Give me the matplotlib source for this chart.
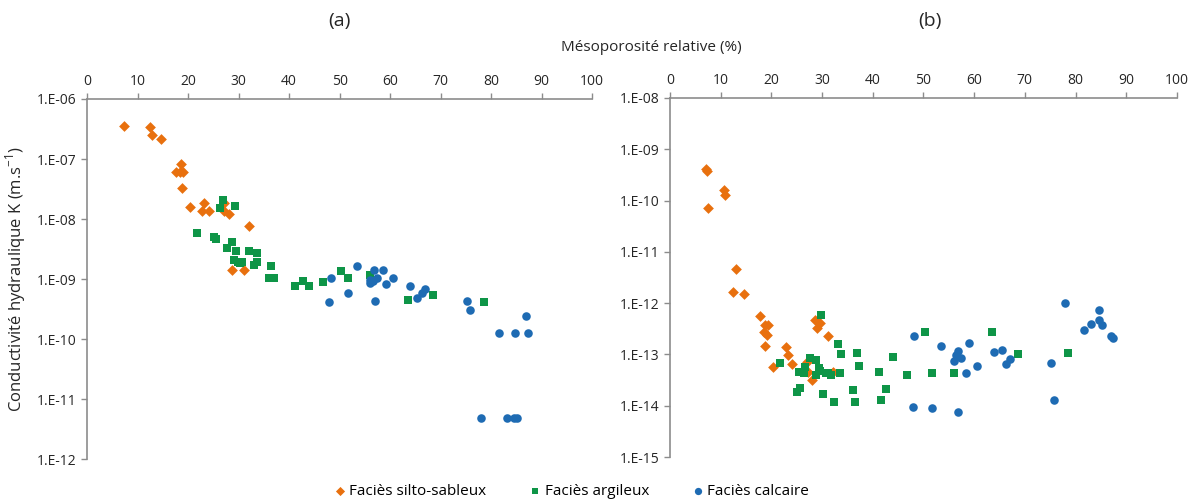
import numpy as np
import matplotlib
matplotlib.use('Agg')
import matplotlib.pyplot as plt
from matplotlib.ticker import FixedLocator, FuncFormatter, NullLocator

plt.rcParams['font.family'] = ['Open Sans', 'DejaVu Sans']

# ---- data, panel (a): x = relative mesoporosity (%), y = log10(K) ----
a_silt_x = [7.3, 12.5, 12.9, 14.7, 18.7, 17.7, 19.0, 18.4, 18.8, 20.3, 23.1, 22.7,
            24.2, 27.2, 27.1, 28.1, 32.1, 28.8, 31.0]
a_silt_logk = [-6.45, -6.46, -6.60, -6.67, -7.08, -7.22, -7.22, -7.22, -7.48, -7.80,
               -7.74, -7.87, -7.86, -7.73, -7.87, -7.92, -8.11, -8.85, -8.85]

a_argi_x = [21.8, 25.1, 25.5, 26.9, 26.4, 29.3, 28.8, 27.7, 29.5, 29.0, 29.8, 30.6,
            30.2, 32.0, 33.7, 33.0, 33.7, 36.5, 36.0, 37.1, 41.2, 42.7, 43.9, 46.7,
            50.3, 51.7, 56.1, 63.6, 68.4, 78.5]
a_argi_logk = [-8.23, -8.30, -8.33, -7.69, -7.81, -7.78, -8.38, -8.48, -8.54, -8.68,
               -8.72, -8.71, -8.74, -8.53, -8.56, -8.77, -8.72, -8.79, -8.98, -8.99,
               -9.12, -9.04, -9.11, -9.05, -8.87, -8.99, -8.93, -9.35, -9.26, -9.38]

a_calc_x = [48.2, 48.0, 51.7, 53.4, 56.9, 58.5, 56.1, 56.7, 57.5, 56.1, 59.1, 60.5,
            57.0, 64.0, 65.3, 66.3, 67.0, 75.2, 75.8, 86.8, 81.6, 84.7, 87.2, 77.9,
            83.1, 84.6, 85.2]
a_calc_logk = [-8.98, -9.39, -9.24, -8.79, -8.85, -8.85, -9.02, -9.03, -8.99, -9.06,
               -9.08, -8.98, -9.37, -9.11, -9.31, -9.23, -9.16, -9.36, -9.51, -9.62,
               -9.90, -9.90, -9.90, -11.31, -11.31, -11.31, -11.31]

# ---- data, panel (b) ----
b_silt_x = [7.1, 7.3, 10.6, 10.8, 7.6, 13.0, 12.5, 14.7, 17.7, 18.7, 19.3, 18.5,
            19.1, 18.8, 22.8, 23.2, 24.0, 20.3, 28.6, 29.6, 29.1, 31.1, 27.1, 27.3,
            28.0, 32.1]
b_silt_logk = [-9.39, -9.42, -9.79, -9.90, -10.15, -11.33, -11.79, -11.83, -12.26,
               -12.43, -12.43, -12.57, -12.63, -12.83, -12.85, -13.02, -13.18, -13.24,
               -12.33, -12.38, -12.48, -12.65, -13.15, -13.35, -13.50, -13.35]

b_argi_x = [29.7, 33.1, 33.8, 36.8, 37.2, 43.9, 21.7, 27.6, 28.8, 26.7, 25.5, 26.5,
            29.4, 29.6, 30.7, 28.8, 31.7, 31.2, 33.6, 25.6, 25.1, 30.2, 32.4, 36.1,
            36.4, 41.2, 42.7, 41.6, 46.7, 50.3, 51.6, 56.0, 63.6, 68.6, 78.5]
b_argi_logk = [-12.23, -12.79, -13.00, -12.98, -13.22, -13.05, -13.17, -13.07, -13.11,
               -13.24, -13.34, -13.37, -13.26, -13.33, -13.36, -13.41, -13.41, -13.37,
               -13.37, -13.65, -13.74, -13.77, -13.92, -13.69, -13.93, -13.34, -13.67,
               -13.89, -13.41, -12.57, -13.37, -13.37, -12.56, -13.00, -12.97]

b_calc_x = [48.1, 48.0, 51.6, 53.4, 56.8, 56.4, 57.4, 56.0, 59.0, 58.4, 60.5, 56.9,
            64.0, 65.4, 67.0, 66.3, 75.2, 75.8, 77.9, 81.7, 83.1, 84.7, 84.7, 85.2,
            87.0, 87.3]
b_calc_logk = [-12.65, -14.03, -14.05, -12.83, -12.94, -13.02, -13.06, -13.13, -12.78,
               -13.36, -13.22, -14.12, -12.96, -12.91, -13.09, -13.18, -13.17, -13.88,
               -12.00, -12.53, -12.40, -12.14, -12.32, -12.43, -12.65, -12.67]

labels = ['Faciès silto-sableux', 'Faciès argileux', 'Faciès calcaire']
colors = ['#E8700E', '#0E9547', '#1E6BB3']
markers = ['D', 's', 'o']
sizes = [30, 26, 38]
xticks = list(range(0, 101, 10))

fig = plt.figure(figsize=(12, 5.01), dpi=100)
ax_a = fig.add_axes([0.0725, 0.0838, 0.421, 0.7186])
ax_b = fig.add_axes([0.5583, 0.0878, 0.4225, 0.7166])


def fmt(v, pos):
    e = int(round(np.log10(v)))
    return '1.E-%02d' % (-e)


def setup(ax, ylo, yhi):
    ax.set_yscale('log')
    ax.set_xlim(0, 100)
    ax.set_ylim(10.0 ** ylo, 10.0 ** yhi)
    ax.xaxis.tick_top()
    ax.set_xticks(xticks)
    ax.yaxis.set_major_locator(FixedLocator([10.0 ** e for e in range(ylo, yhi + 1)]))
    ax.yaxis.set_minor_locator(NullLocator())
    ax.yaxis.set_major_formatter(FuncFormatter(fmt))
    for s in ['right', 'bottom']:
        ax.spines[s].set_visible(False)
    for s in ['left', 'top']:
        ax.spines[s].set_color('#8c8c8c')
        ax.spines[s].set_linewidth(1.2)
    ax.tick_params(axis='both', colors='#8c8c8c', labelcolor='#262626',
                   labelsize=10, length=4, width=1)
    ax.tick_params(axis='x', pad=3)


def draw(ax, series):
    for (x, lk), c, m, s, lab in zip(series, colors, markers, sizes, labels):
        ax.scatter(x, 10.0 ** np.array(lk), c=c, marker=m, s=s, linewidths=0,
                   label=lab, zorder=3)


draw(ax_a, [(a_silt_x, a_silt_logk), (a_argi_x, a_argi_logk), (a_calc_x, a_calc_logk)])
draw(ax_b, [(b_silt_x, b_silt_logk), (b_argi_x, b_argi_logk), (b_calc_x, b_calc_logk)])
setup(ax_a, -12, -6)
setup(ax_b, -15, -8)

ax_a.set_ylabel('Conductivité hydraulique K (m.s$^{\\mathregular{-1}}$)', fontsize=12,
                color='#262626', labelpad=6)
fig.text(0.5425, 0.906, 'Mésoporosité relative (%)', ha='center', va='center',
         fontsize=11, color='#262626')
fig.text(0.283, 0.958, '(a)', ha='center', va='center', fontsize=14, color='#262626')
fig.text(0.775, 0.958, '(b)', ha='center', va='center', fontsize=14, color='#262626')

handles, labs = ax_a.get_legend_handles_labels()
fig.legend(handles, labs, loc='center', bbox_to_anchor=(0.475, 0.018), ncol=3,
           frameon=False, fontsize=11, handletextpad=0.0, columnspacing=2.6,
           markerscale=0.85, handlelength=1.2)

fig.savefig('out.png', dpi=100)
